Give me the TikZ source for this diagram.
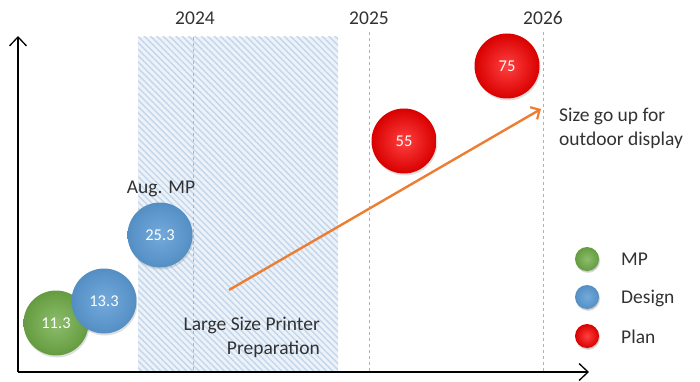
\documentclass[tikz,border=0pt]{standalone}
\usepackage{fontspec}
\setmainfont{Carlito}
\usetikzlibrary{arrows.meta,patterns.meta,shadows}
\definecolor{orangeA}{RGB}{237,125,49}
\definecolor{greenA}{RGB}{112,173,71}
\definecolor{blueA}{RGB}{91,155,213}
\definecolor{hatchA}{RGB}{196,214,234}
\definecolor{hatchB}{RGB}{236,242,249}
\definecolor{txt}{RGB}{50,50,50}
\tikzset{
  axis/.style={line width=1.5pt,-{Straight Barb[length=9pt,width=17pt,line width=1.3pt]}},
  yearline/.style={gray!60,dashed,line width=0.7pt},
  ballbase/.style={circle,minimum size=65pt,inner sep=0pt,text=white,font=\fontsize{16.5}{20}\selectfont,
     drop shadow={opacity=0.25,shadow xshift=1pt,shadow yshift=-2pt}},
  greenball/.style={ballbase,inner color=greenA!80!white,outer color=greenA!90!black},
  blueball/.style={ballbase,inner color=blueA!85!white,outer color=blueA!92!black},
  redball/.style={ballbase,inner color=red!75!white,outer color=red!85!black},
  legball/.style={ballbase,minimum size=24pt,drop shadow={opacity=0.25,shadow xshift=0.5pt,shadow yshift=-1pt}},
  lbl/.style={text=txt,font=\fontsize{19.5}{23.5}\selectfont,inner sep=0pt},
}
\begin{document}
\begin{tikzpicture}[x=1pt,y=-1pt]
\useasboundingbox (0,0) rectangle (700,382);
% hatched region
\fill[hatchB] (138,37) rectangle (338,372);
\fill[pattern={Lines[angle=-45,distance=4.5pt,line width=1.4pt]},pattern color=hatchA] (138,37) rectangle (338,372);
% year lines
\draw[yearline] (193,37) -- (193,372);
\draw[yearline] (369,32) -- (369,372);
\draw[yearline] (543,32) -- (543,372);
\node[lbl,anchor=base] (y24) at (195,25) {2024};
\node[lbl,anchor=base] (y25) at (369,25) {2025};
\node[lbl,anchor=base] (y26) at (543,25) {2026};
% axes
\coordinate (o) at (18,372);
\coordinate (ytop) at (18,36);
\coordinate (xend) at (589,372);
\draw[axis] (o) -- (ytop);
\draw[axis] (o) -- (xend);
% balls
\node[greenball] (b1) at (56,323) {11.3};
\node[blueball] (b2) at (104,301) {13.3};
\node[blueball] (b3) at (160,235) {25.3};
\node[redball] (b4) at (404,141) {55};
\node[redball] (b5) at (507,66) {75};
\node[lbl,anchor=base] (aug) at (161,193) {Aug. MP};
% arrow
\coordinate (as) at (229,290);
\coordinate (ae) at (541,109);
\draw[orangeA,line width=2.4pt,-{Straight Barb[length=7pt,width=14pt,line width=2.2pt]}] (as) -- (ae);
\node[lbl,align=left,anchor=north west] (size) at (559,108) {Size go up for\\outdoor display};
\node[lbl,align=right,anchor=north east] (prep) at (320,317) {Large Size Printer\\Preparation};
% legend
\node[legball,inner color=greenA!80!white,outer color=greenA!90!black] (l1) at (587,259) {};
\node[legball,inner color=blueA!85!white,outer color=blueA!92!black] (l2) at (587,297) {};
\node[legball,inner color=red!75!white,outer color=red!85!black] (l3) at (587,336) {};
\node[lbl,anchor=base west] (t1) at (621,265) {MP};
\node[lbl,anchor=base west] (t2) at (621,303) {Design};
\node[lbl,anchor=base west] (t3) at (621,343) {Plan};
\end{tikzpicture}
\end{document}
